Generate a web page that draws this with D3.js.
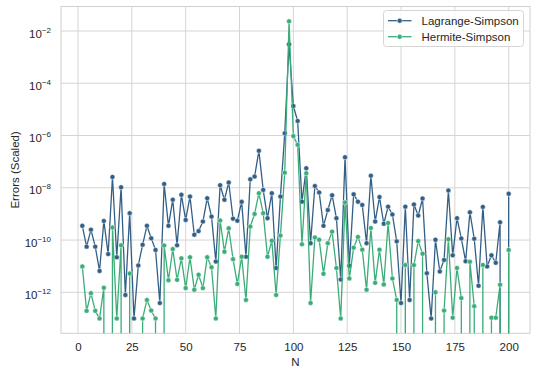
<!DOCTYPE html>
<html>
<head>
<meta charset="utf-8">
<script src="https://cdn.jsdelivr.net/npm/d3@7"></script>
<style>
  html, body { margin: 0; padding: 0; background: #ffffff; }
  svg { display: block; }
  text { font-family: "Liberation Sans", Arial, sans-serif; fill: #262626; }
</style>
</head>
<body>
<svg id="chart" width="536" height="375"></svg>
<script>
// ---------------- data ----------------
const N = [2,4,6,8,10,12,14,16,18,20,22,24,26,28,30,32,34,36,38,40,
           42,44,46,48,50,52,54,56,58,60,62,64,66,68,70,72,74,76,78,80,
           82,84,86,88,90,92,94,96,98,100,102,104,106,108,110,112,114,116,118,120,
           122,124,126,128,130,132,134,136,138,140,142,144,146,148,150,152,154,156,158,160,
           162,164,166,168,170,172,174,176,178,180,182,184,186,188,190,192,194,196,198,200];

const lagrangeSimpson = [
  3.5e-10, 5.6e-11, 2.5e-10, 5.6e-11, 6.6e-12, 5.4e-10, 2.9e-11, 2.6e-8, 2.2e-11, 1.05e-8,
  7.9e-13, 1.07e-9, 1.0e-13, 1.07e-11, 6.6e-11, 3.5e-10, 1.17e-10, 4.2e-11, 3.9e-13, 1.4e-8,
  3.5e-10, 3.5e-9, 6.3e-11, 5.4e-9, 5.9e-10, 4.6e-9, 1.6e-10, 2.2e-10, 5.1e-10, 4.0e-9,
  7.9e-10, 1.5e-11, 1.26e-8, 3.5e-9, 1.6e-8, 6.6e-10, 5.5e-10, 2.9e-9, 2.3e-11, 2.1e-8,
  2.7e-8, 2.6e-7, 8.3e-9, 6.9e-10, 6.2e-9, 8.5e-12, 4.6e-9, 1.23e-6, 3.1e-3, 1.35e-5,
  3.6e-6, 2.95e-9, 5.6e-8, 7.6e-11, 1.17e-8, 6.6e-9, 3.5e-10, 1.4e-9, 5.2e-9, 6.9e-10,
  3.1e-12, 1.48e-7, 1.05e-11, 5.6e-9, 2.95e-9, 2.2e-9, 7.6e-11, 2.9e-8, 5.1e-10, 4.4e-9,
  4.2e-10, 1.9e-9, 9.5e-10, 8.9e-11, 3.9e-13, 1.9e-9, 5.1e-13, 2.3e-9, 8.7e-10, 3.9e-9,
  5.4e-12, 1.0e-13, 1.02e-10, 6.3e-12, 1.74e-11, 7.9e-9, 2.6e-11, 6.9e-10, 1.15e-10, 1.55e-11,
  1.15e-9, 1.12e-10, 1.78e-12, 1.86e-9, 9.8e-12, 2.6e-11, 1.35e-11, 4.8e-10, 0, 5.9e-9
];

const hermiteSimpson = [
  9.8e-12, 1.95e-13, 9.3e-13, 1.95e-13, 1.0e-13, 1.5e-12, 0, 3.0e-10, 1.0e-13, 6.3e-11,
  0, 5.2e-12, 0, 0, 1.0e-13, 5.1e-13, 2.0e-13, 1.0e-13, 0, 6.2e-11,
  2.9e-12, 4.5e-11, 3.0e-12, 2.0e-11, 1.45e-12, 2.2e-11, 1.26e-12, 4.7e-12, 1.45e-12, 2.2e-11,
  9.1e-12, 1.0e-13, 5.6e-10, 3.6e-11, 2.8e-10, 1.86e-11, 2.1e-12, 2.3e-11, 5.1e-13, 3.3e-10,
  1.0e-9, 6.2e-9, 1.07e-9, 2.3e-11, 9.5e-11, 7.9e-13, 1.48e-10, 3.8e-8, 2.34e-2, 9.5e-7,
  4.4e-7, 6.9e-11, 3.6e-8, 3.9e-13, 1.26e-10, 1.02e-10, 5.1e-12, 7.6e-11, 2.1e-10, 8.5e-12,
  1.0e-13, 2.75e-9, 3.4e-12, 5.1e-11, 1.32e-10, 4.3e-11, 1.26e-12, 2.9e-10, 2.3e-12, 4.3e-11,
  2.0e-12, 4.5e-10, 3.4e-12, 5.1e-13, 0, 1.1e-11, 0, 1.1e-11, 9.1e-11, 3.0e-11,
  0, 0, 1.0e-12, 0, 2.0e-13, 1.07e-10, 1.07e-13, 8.5e-12, 6.0e-13, 0,
  1.48e-11, 2.95e-13, 0, 1.12e-11, 0, 1.07e-13, 1.07e-13, 1.95e-12, 0, 4.2e-11
];

const seriesNames = ["Lagrange-Simpson", "Hermite-Simpson"];
const seriesColors = ["#335f86", "#3aad78"];
const xTicks = [0, 25, 50, 75, 100, 125, 150, 175, 200];
const yTickExponents = [-2, -4, -6, -8, -10, -12];
const xLabel = "N";
const yLabel = "Errors (Scaled)";

// ---------------- layout ----------------
const svg = d3.select("#chart");
const plot = { left: 61, right: 530, top: 6.5, bottom: 333.3 };

const series = [lagrangeSimpson, hermiteSimpson].map((vals, i) => ({
  name: seriesNames[i],
  color: seriesColors[i],
  points: N.map((n, j) => ({ n, v: vals[j] }))
}));

// matplotlib-style autoscale: 5% margins (log space on y)
const xr = d3.extent(N);
const xm = (xr[1] - xr[0]) * 0.05;
const positives = [...lagrangeSimpson, ...hermiteSimpson].filter(v => v > 0);
const lmin = Math.log10(d3.min(positives)), lmax = Math.log10(d3.max(positives));
const lm = (lmax - lmin) * 0.05;

const x = d3.scaleLinear().domain([xr[0] - xm, xr[1] + xm]).range([plot.left, plot.right]);
const y = d3.scaleLog().domain([Math.pow(10, lmin - lm), Math.pow(10, lmax + lm)]).range([plot.bottom, plot.top]);

// plot background & clip
svg.append("defs").append("clipPath").attr("id", "clip")
  .append("rect").attr("x", plot.left).attr("y", plot.top)
  .attr("width", plot.right - plot.left).attr("height", plot.bottom - plot.top);

svg.append("rect").attr("x", plot.left).attr("y", plot.top)
  .attr("width", plot.right - plot.left).attr("height", plot.bottom - plot.top)
  .attr("fill", "#ffffff");

// grid
const grid = svg.append("g");
grid.selectAll("line.gx").data(xTicks).join("line")
  .attr("x1", d => x(d)).attr("x2", d => x(d))
  .attr("y1", plot.top).attr("y2", plot.bottom)
  .attr("stroke", "#d5d5d5").attr("stroke-width", 1);
grid.selectAll("line.gy").data(yTickExponents).join("line")
  .attr("x1", plot.left).attr("x2", plot.right)
  .attr("y1", d => y(Math.pow(10, d))).attr("y2", d => y(Math.pow(10, d)))
  .attr("stroke", "#d5d5d5").attr("stroke-width", 1);

// frame
svg.append("rect").attr("x", plot.left).attr("y", plot.top)
  .attr("width", plot.right - plot.left).attr("height", plot.bottom - plot.top)
  .attr("fill", "none").attr("stroke", "#d0d0d0").attr("stroke-width", 1);

// x axis
const xAxis = d3.axisBottom(x).tickValues(xTicks).tickSize(0).tickPadding(10).tickFormat(d3.format("d"));
const gx = svg.append("g").attr("transform", `translate(0,${plot.bottom})`).call(xAxis);
gx.select(".domain").remove();
gx.selectAll("text").attr("font-size", 11.5).attr("fill", "#262626")
  .style("font-family", '"Liberation Sans", Arial, sans-serif');

// y axis labels (10^k)
const gy = svg.append("g");
yTickExponents.forEach(e => {
  const yy = y(Math.pow(10, e));
  const t = gy.append("text").attr("x", 51).attr("y", yy + 6.5)
    .attr("text-anchor", "end").attr("font-size", 11.5);
  t.append("tspan").text("10");
  t.append("tspan").attr("dy", -5).attr("font-size", 8).text("\u2212" + Math.abs(e));
});

// axis titles
svg.append("text").attr("x", (plot.left + plot.right) / 2).attr("y", 366)
  .attr("text-anchor", "middle").attr("font-size", 11.5).text(xLabel);
svg.append("text").attr("transform", `translate(19,${(plot.top + plot.bottom) / 2}) rotate(-90)`)
  .attr("text-anchor", "middle").attr("font-size", 11.5).text(yLabel);

// lines & markers
const CLIPV = 1e-300; // nonpositive values clipped like matplotlib's log scale
const line = d3.line().x(d => x(d.n)).y(d => y(d.v > 0 ? d.v : CLIPV));
const marks = svg.append("g").attr("clip-path", "url(#clip)");
series.forEach(s => {
  marks.append("path").datum(s.points).attr("d", line)
    .attr("fill", "none").attr("stroke", s.color).attr("stroke-width", 1.3)
    .attr("stroke-linejoin", "round");
  marks.append("g").selectAll("circle").data(s.points.filter(p => p.v > 0)).join("circle")
    .attr("cx", d => x(d.n)).attr("cy", d => y(d.v)).attr("r", 2.5)
    .attr("fill", s.color).attr("stroke", "#ffffff").attr("stroke-width", 0.5);
});

// legend
const lg = svg.append("g");
lg.append("rect").attr("x", 383.5).attr("y", 10.5).attr("width", 140).attr("height", 36)
  .attr("rx", 3).attr("fill", "#ffffff").attr("fill-opacity", 0.8)
  .attr("stroke", "#d5d5d5").attr("stroke-width", 1);
series.forEach((s, i) => {
  const ry = 20.7 + i * 16;
  lg.append("line").attr("x1", 388).attr("x2", 411.5).attr("y1", ry).attr("y2", ry)
    .attr("stroke", s.color).attr("stroke-width", 1.3);
  lg.append("circle").attr("cx", 399.7).attr("cy", ry).attr("r", 2.5)
    .attr("fill", s.color).attr("stroke", "#ffffff").attr("stroke-width", 0.5);
  lg.append("text").attr("x", 421.5).attr("y", ry + 4.1).attr("font-size", 11.5).text(s.name);
});
</script>
</body>
</html>
